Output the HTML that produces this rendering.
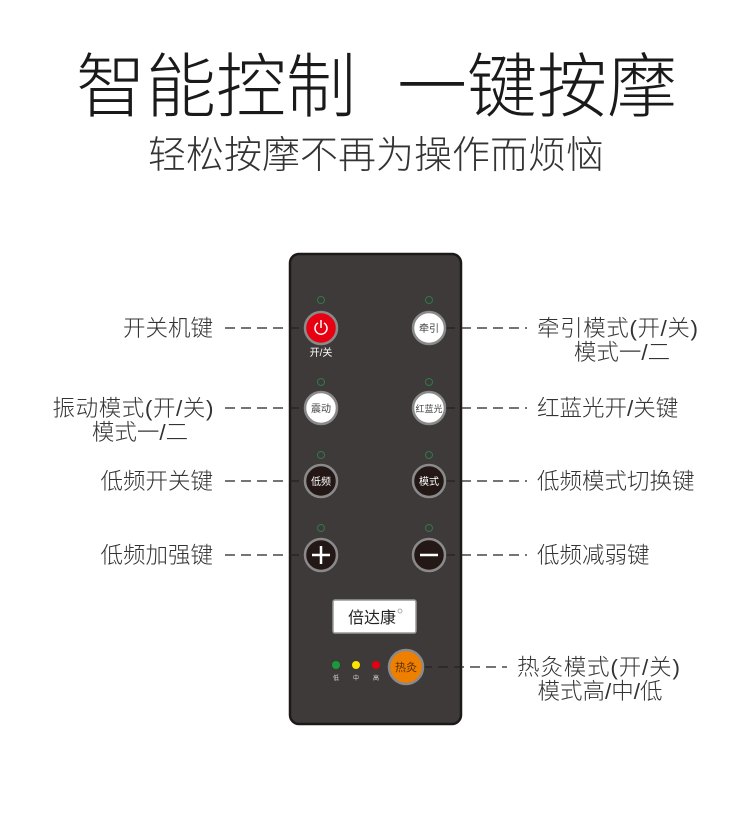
<!DOCTYPE html>
<html><head><meta charset="utf-8"><style>
html,body{margin:0;padding:0;background:#fff;}
svg{display:block;}
text{font-family:"Liberation Sans","Noto Sans CJK SC",sans-serif;}
</style></head><body>
<svg width="750" height="815" viewBox="0 0 750 815" xmlns="http://www.w3.org/2000/svg">
<text x="216" y="111" font-size="70" font-weight="300" fill="#1a1a1a" text-anchor="middle">智能控制</text>
<text x="537" y="111" font-size="70" font-weight="300" fill="#1a1a1a" text-anchor="middle">一键按摩</text>
<text x="376" y="168" font-size="38" font-weight="300" fill="#333" text-anchor="middle">轻松按摩不再为操作而烦恼</text>

<rect x="290" y="254" width="171" height="470" rx="9" fill="#3e3a39" stroke="#1c1918" stroke-width="2.5"/>

<g stroke="#222" stroke-width="1.3" fill="none">
<line x1="225" y1="328" x2="305" y2="328" stroke-dasharray="10,6"/>
<line x1="225" y1="408" x2="305" y2="408" stroke-dasharray="10,6"/>
<line x1="225" y1="481" x2="305" y2="481" stroke-dasharray="10,6"/>
<line x1="225" y1="555" x2="305" y2="555" stroke-dasharray="10,6"/>
<line x1="445" y1="328" x2="527" y2="328" stroke-dasharray="10,6"/>
<line x1="445" y1="408" x2="527" y2="408" stroke-dasharray="10,6"/>
<line x1="445" y1="481" x2="527" y2="481" stroke-dasharray="10,6"/>
<line x1="445" y1="555" x2="527" y2="555" stroke-dasharray="10,6"/>
<line x1="422" y1="667" x2="507" y2="667" stroke-dasharray="10,6"/>
</g>

<g fill="none" stroke="#2f7a4a" stroke-width="1">
<circle cx="321" cy="300" r="3.5"/><circle cx="429" cy="300" r="3.5"/>
<circle cx="321" cy="382" r="3.5"/><circle cx="429" cy="382" r="3.5"/>
<circle cx="321" cy="455" r="3.5"/><circle cx="429" cy="455" r="3.5"/>
<circle cx="321" cy="528" r="3.5"/><circle cx="429" cy="528" r="3.5"/>
</g>

<g stroke="#8a8a8a" stroke-width="2.5">
<circle cx="321" cy="328" r="16" fill="#e60012"/>
<circle cx="429" cy="328" r="16" fill="#fff"/>
<circle cx="321" cy="408" r="16" fill="#fff"/>
<circle cx="429" cy="408" r="16" fill="#fff"/>
<circle cx="321" cy="481" r="16" fill="#231815"/>
<circle cx="429" cy="481" r="16" fill="#231815"/>
<circle cx="321" cy="555" r="16" fill="#231815"/>
<circle cx="429" cy="555" r="16" fill="#231815"/>
<circle cx="406" cy="667" r="17" fill="#ee7f00"/>
</g>
<path d="M318 323 A6 6 0 1 0 324 323" stroke="#fff" stroke-width="1.5" fill="none"/>
<line x1="321" y1="320" x2="321" y2="328" stroke="#fff" stroke-width="1.5"/>
<text x="321" y="356" font-size="10" fill="#fff" text-anchor="middle">开/关</text>
<g font-size="10" text-anchor="middle">
<text x="429" y="332" fill="#444">牵引</text>
<text x="321" y="412" fill="#444">震动</text>
<text x="429" y="412" fill="#444" font-size="9">红蓝光</text>
<text x="321" y="485" fill="#fff">低频</text>
<text x="429" y="485" fill="#fff">模式</text>
<text x="406" y="671" fill="#5a3000" font-size="11">热灸</text>
</g>
<g stroke="#fff" stroke-width="2.5">
<line x1="312" y1="555" x2="330" y2="555"/><line x1="321" y1="546" x2="321" y2="564"/>
<line x1="420" y1="555" x2="438" y2="555"/>
</g>

<rect x="333" y="600" width="83" height="33" rx="2" fill="#fff" stroke="#999" stroke-width="1.5"/>
<text x="372" y="623" font-size="16" fill="#222" text-anchor="middle">倍达康</text>
<circle cx="400" cy="611" r="2" fill="none" stroke="#999" stroke-width="0.8"/>

<circle cx="336" cy="665" r="4" fill="#1a9a3a"/>
<circle cx="356" cy="665" r="4" fill="#ffe600"/>
<circle cx="376" cy="665" r="4" fill="#e60012"/>
<g font-size="6" fill="#ddd" text-anchor="middle">
<text x="336" y="680">低</text><text x="356" y="680">中</text><text x="376" y="680">高</text>
</g>

<g font-size="22.5" font-weight="300" fill="#333">
<text x="213" y="336" text-anchor="end">开关机键</text>
<text x="133" y="416" text-anchor="middle" textLength="161" lengthAdjust="spacing">振动模式(开/关)</text>
<text x="140" y="440" text-anchor="middle">模式一/二</text>
<text x="213" y="489" text-anchor="end">低频开关键</text>
<text x="213" y="563" text-anchor="end">低频加强键</text>
<text x="537" y="336" textLength="161" lengthAdjust="spacing">牵引模式(开/关)</text>
<text x="622" y="360" text-anchor="middle">模式一/二</text>
<text x="537" y="416">红蓝光开/关键</text>
<text x="537" y="489">低频模式切换键</text>
<text x="537" y="563">低频减弱键</text>
<text x="517" y="675" textLength="163" lengthAdjust="spacing">热灸模式(开/关)</text>
<text x="600" y="699" text-anchor="middle">模式高/中/低</text>
</g>
</svg>
</body></html>
